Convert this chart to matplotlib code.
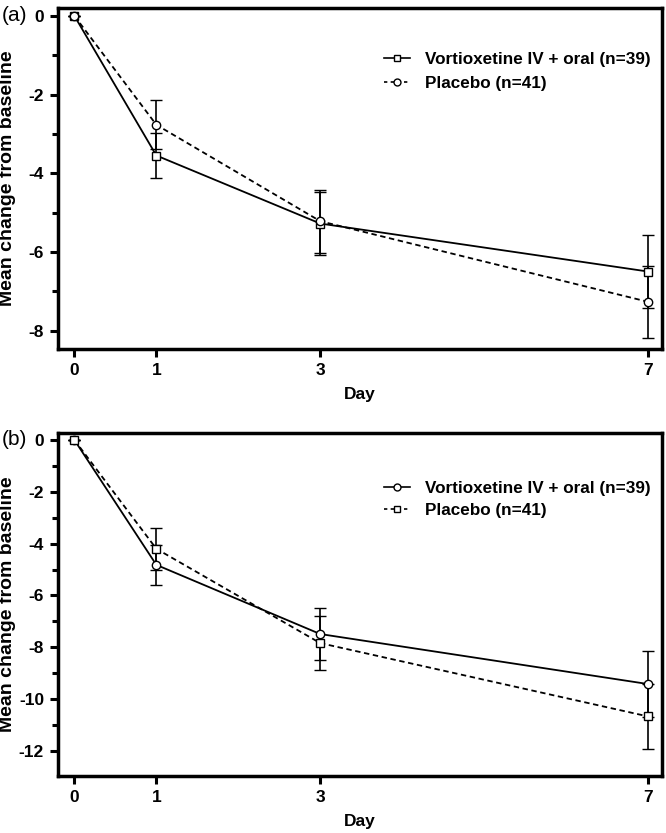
import matplotlib
matplotlib.use("Agg")
import matplotlib.pyplot as plt
from matplotlib.ticker import MultipleLocator
from matplotlib.lines import Line2D

plt.rcParams['font.family'] = ['Liberation Sans', 'DejaVu Sans']
plt.rcParams['axes.unicode_minus'] = False

days = [0, 1, 3, 7]

# Panel (a)
a_vort = [0, -3.55, -5.28, -6.50]
a_vort_se = [0, 0.57, 0.80, 0.93]
a_plac = [0, -2.77, -5.22, -7.27]
a_plac_se = [0, 0.62, 0.80, 0.91]

# Panel (b)
b_vort = [0, -4.82, -7.49, -9.42]
b_vort_se = [0, 0.76, 1.00, 1.27]
b_plac = [0, -4.20, -7.84, -10.67]
b_plac_se = [0, 0.80, 1.03, 1.26]

vort_label = "Vortioxetine IV + oral (n=39)"
plac_label = "Placebo (n=41)"

fig = plt.figure(figsize=(6.66, 8.33), dpi=100)
ax1 = fig.add_axes([0.0871, 0.581, 0.9069, 0.4094])
ax2 = fig.add_axes([0.0871, 0.0684, 0.9069, 0.4118])

DASH = (0, (3, 2))

def draw(ax, vy, vse, vm, py, pse, pm, ylim, yticks, legy, lspace):
    ax.errorbar(days, vy, yerr=vse, color='black', lw=1.3, ls='-', marker=vm,
                ms=6, mfc='white', mec='black', mew=1.0, capsize=4, elinewidth=1.2,
                capthick=1.2, zorder=3)
    ax.errorbar(days, py, yerr=pse, color='black', lw=1.3, ls=DASH, marker=pm,
                ms=6, mfc='white', mec='black', mew=1.0, capsize=4, elinewidth=1.2,
                capthick=1.2, zorder=3)
    ax.set_xlim(-0.2, 7.17)
    ax.set_ylim(*ylim)
    ax.set_xticks(days)
    ax.set_yticks(yticks)
    ax.yaxis.set_minor_locator(MultipleLocator(1))
    for s in ax.spines.values():
        s.set_linewidth(2.5)
    ax.tick_params(axis='both', which='major', direction='out', length=6, width=2.2,
                   labelsize=12.5, pad=4)
    ax.tick_params(axis='y', which='minor', direction='out', length=4, width=2.2)
    for lab in ax.get_xticklabels() + ax.get_yticklabels():
        lab.set_fontweight('bold')
    ax.set_xlabel('Day', fontsize=12.5, fontweight='bold')
    ax.set_ylabel('Mean change from baseline', fontsize=14, fontweight='bold')
    ax.yaxis.set_label_coords(-0.07, 0.5)
    handles = [
        Line2D([], [], color='black', lw=1.2, ls='-', marker=vm, ms=5,
               mfc='white', mec='black', mew=1.0),
        Line2D([], [], color='black', lw=1.2, ls=(0, (2, 2)), marker=pm, ms=5,
               mfc='white', mec='black', mew=1.0),
    ]
    ax.legend(handles, [vort_label, plac_label], loc='upper left',
              bbox_to_anchor=(0.515, legy), frameon=False,
              prop={'size': 12.3, 'weight': 'bold'}, handlelength=1.5,
              handletextpad=0.9, labelspacing=lspace)

draw(ax1, a_vort, a_vort_se, 's', a_plac, a_plac_se, 'o', (-8.47, 0.2),
     [0, -2, -4, -6, -8], 0.916, 0.55)
draw(ax2, b_vort, b_vort_se, 'o', b_plac, b_plac_se, 's', (-12.97, 0.27),
     [0, -2, -4, -6, -8, -10, -12], 0.906, 0.45)
ax1.xaxis.set_label_coords(0.5, -0.112)
ax2.xaxis.set_label_coords(0.5, -0.11)

fig.text(0.003, 0.981, '(a)', fontsize=15, ha='left', va='center')
fig.text(0.003, 0.472, '(b)', fontsize=15, ha='left', va='center')

fig.savefig('out.png', dpi=100)
